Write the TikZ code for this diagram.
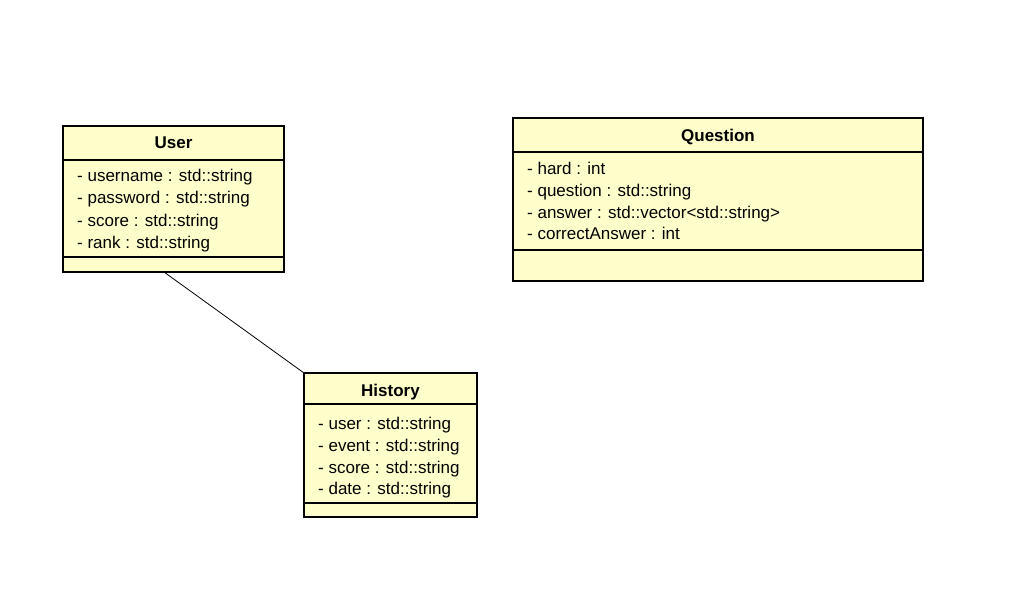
\documentclass[tikz,border=0pt]{standalone}
\usepackage{fontspec}
\setmainfont{Liberation Sans}
\usetikzlibrary{calc}
\definecolor{umlfill}{RGB}{255,255,204}
\begin{document}
\begin{tikzpicture}[x=1pt,y=-1pt,
  classbox/.style={draw=black, line width=2.5pt, fill=umlfill, anchor=north west, inner sep=0pt, outer sep=0pt},
  sepline/.style={line width=1.3pt},
  classtitle/.style={font=\fontsize{17}{19}\selectfont\bfseries, inner sep=0pt, text height=15pt, text depth=3pt},
  attr/.style={font=\fontsize{17}{22}\selectfont, anchor=west, inner sep=0pt, text height=15pt, text depth=3pt},
  assoc/.style={line width=0.8pt}]
\useasboundingbox (0,0) rectangle (1035,612);

% User
\node[classbox, minimum width=221pt, minimum height=146pt] (user) at (63,126) {};
\node[classtitle] (usertitle) at (173.5,143) {User};
\draw[sepline] ($(user.north west)+(0,34)$) -- ($(user.north east)+(0,34)$);
\draw[sepline] ($(user.south west)+(0,-15)$) -- ($(user.south east)+(0,-15)$);
\node[attr] (u1) at (77,176) {- username : std::string};
\node[attr] (u2) at (77,198) {- password : std::string};
\node[attr] (u3) at (77,220) {- score : std::string};
\node[attr] (u4) at (77,242) {- rank : std::string};

% Question
\node[classbox, minimum width=410pt, minimum height=163pt] (question) at (513,118) {};
\node[classtitle] (qtitle) at (718,136) {Question};
\draw[sepline] ($(question.north west)+(0,34)$) -- ($(question.north east)+(0,34)$);
\draw[sepline] ($(question.south west)+(0,-31)$) -- ($(question.south east)+(0,-31)$);
\node[attr] (q1) at (527,169) {- hard : int};
\node[attr] (q2) at (527,191) {- question : std::string};
\node[attr] (q3) at (527,213) {- answer : std::vector<std::string>};
\node[attr] (q4) at (527,234) {- correctAnswer : int};

% History
\node[classbox, minimum width=173pt, minimum height=144pt] (history) at (304,373) {};
\node[classtitle] (htitle) at (390.5,390) {History};
\draw[sepline] ($(history.north west)+(0,31)$) -- ($(history.north east)+(0,31)$);
\draw[sepline] ($(history.south west)+(0,-14)$) -- ($(history.south east)+(0,-14)$);
\node[attr] (h1) at (318,423) {- user : std::string};
\node[attr] (h2) at (318,445) {- event : std::string};
\node[attr] (h3) at (318,467) {- score : std::string};
\node[attr] (h4) at (318,488) {- date : std::string};

% association
\draw[assoc] ($(user.south west)!0.457!(user.south east)$) -- (history.north west);
\end{tikzpicture}
\end{document}
